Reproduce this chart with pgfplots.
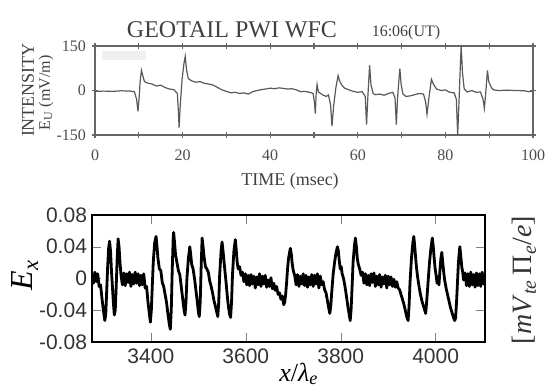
\documentclass[border=0pt]{standalone}
\usepackage{fontspec}
\setmainfont{Liberation Serif}
\newfontfamily\arial{Liberation Sans}
\usepackage{pgfplots}
\pgfplotsset{compat=1.18}
\begin{document}
\begin{tikzpicture}
\path[use as bounding box] (0,0) rectangle (275.5pt,193.5pt);
% ---------------- top panel ----------------
\begin{axis}[at={(47.5pt,126pt)}, anchor=south west, scale only axis,
  width=219pt, height=44.5pt,
  xmin=0, xmax=100, ymin=-150, ymax=150,
  xtick={0,20,...,100}, minor xtick={10,30,...,90},
  ytick={-150,0,150}, yticklabels={-150,0,150},
  xticklabels={0,20,40,60,80,100},
  tick align=center, major tick length=3pt, minor tick length=3pt,
  axis line style={black!60, line width=0.8pt},
  every tick/.style={black!60, line width=0.6pt},
  /pgf/number format/assume math mode=true,
  tick label style={font=\fontsize{8}{9}\selectfont, text=black!70},
  xticklabel style={yshift=-2.5pt},
  yticklabel style={xshift=0.5pt},
]
\fill[black!6] (axis cs:1.6,103) rectangle (axis cs:11.6,133);
\addplot[black!65, line width=0.6pt] coordinates {
(0,-3) (2,-2) (4,-3) (6,-1) (8,-2) (9,-4) (9.5,-30) (9.8,-70) (10.1,-20) (10.3,30) (10.6,68) (10.9,50) (11.3,30) (12,25) (13,22) (14,15) (15,18) (16,10) (17,5) (18,3) (18.8,-10) (19.0,-60) (19.2,-125) (19.5,-40) (19.9,40) (20.3,90) (20.6,115) (20.9,70) (21.3,40) (22,33) (23,28) (24,30) (25,24) (26,22) (27,18) (28,10) (29,2) (30,-3) (31,-8) (32,-6) (33,-10) (34,-8) (35,-12) (36,-4) (37,0) (38,3) (39,5) (40,8) (41,6) (42,9) (43,7) (44,5) (45,6) (46,2) (47,-4) (48,-3) (49,-6) (49.8,-10) (50.1,-40) (50.3,-78) (50.5,-10) (50.7,20) (51,-5) (52,-15) (52.8,-20) (53.3,-15) (53.8,-50) (54.1,-120) (54.5,-50) (55,10) (55.5,50) (55.9,30) (56.5,15) (57,8) (58,2) (59,-3) (60,-6) (61,-4) (61.7,-20) (62.0,-115) (62.3,-20) (62.7,85) (63,20) (63.5,-10) (64,-14) (65,-12) (66,-16) (67,-10) (68,-6) (68.5,-25) (68.8,-115) (69.1,-20) (69.6,74) (69.9,20) (70.3,-12) (71,-20) (72,-18) (73,-14) (74,-10) (75,-12) (75.5,-40) (75.8,-80) (76.2,-30) (76.8,38) (77.3,20) (78,5) (79,0) (80,2) (81,-6) (82,-8) (82.5,-30) (82.8,-150) (83.1,-40) (83.4,80) (83.6,150) (83.9,60) (84.3,5) (85,-5) (86,0) (87,-6) (88,-5) (88.6,-30) (88.9,-60) (89.2,-10) (89.6,68) (89.9,30) (90.5,10) (91,2) (92,0) (94,1) (96,0) (98,-1) (99,-4) (100,-2)
};
\end{axis}
\node[anchor=base, font=\fontsize{12}{14}\selectfont, text=black!75] at (116pt,175pt) {GEOTAIL PWI WFC};
\node[anchor=base, font=\fontsize{8}{9}\selectfont, text=black!75] at (203pt,175.5pt) {16:06(UT)};
\node[rotate=90, font=\fontsize{9}{10}\selectfont, text=black!75] at (14pt,148.5pt) {INTENSITY};
\node[rotate=90, font=\fontsize{8}{9}\selectfont, text=black!75] at (23pt,147pt) {E\textsubscript{U} (mV/m)};
\node[font=\fontsize{9}{10}\selectfont, text=black!75] at (145pt,103pt) {TIME (msec)};
% ---------------- bottom panel ----------------
\begin{axis}[at={(46pt,22.5pt)}, anchor=south west, scale only axis,
  width=196.5pt, height=63.5pt,
  xmin=3276, xmax=4104, ymin=-0.08, ymax=0.08,
  scaled y ticks=false, scaled x ticks=false,
  xtick={3400,3600,3800,4000}, xticklabels={3400,3600,3800,4000},
  ytick={-0.08,-0.04,0,0.04,0.08}, yticklabels={-0.08,-0.04,0,0.04,0.08},
  axis line style={line width=0.9pt},
  /pgf/number format/assume math mode=true,
  tick label style={font=\arial\fontsize{10.5}{12}\selectfont, text=black!80},
  yticklabel style={xshift=1pt},
]
\addplot[black, line width=1.4pt, line join=round] coordinates {
(3276,0.004) (3279,-0.006) (3282,0.008) (3285,-0.004) (3288,0.006) (3291,-0.010) (3294,-0.008) (3297,-0.025) (3300,-0.040) (3303,-0.053) (3305,-0.045) (3307,-0.015) (3309,0.015) (3311,0.038) (3313,0.047) (3315,0.035) (3317,0.010) (3319,-0.010) (3321,-0.030) (3323,-0.046) (3325,-0.040) (3327,-0.010) (3329,0.025) (3331,0.050) (3333,0.040) (3335,0.020) (3337,0.005)
(3340,-0.008) (3343,0.007) (3346,-0.009) (3349,0.006) (3352,-0.005) (3355,0.008) (3358,-0.010) (3361,0.005) (3364,-0.007) (3367,0.008) (3370,-0.006) (3373,0.006) (3376,-0.009) (3379,0.004) (3382,-0.008) (3385,0.006) (3388,-0.012) (3391,-0.010) (3394,-0.030) (3397,-0.045) (3399,-0.055) (3401,-0.040) (3403,-0.010) (3405,0.020) (3408,0.045) (3411,0.053) (3413,0.040) (3415,0.025) (3418,0.012) (3421,0.010) (3424,-0.005) (3427,-0.010) (3430,-0.020) (3433,-0.030) (3436,-0.045) (3439,-0.058) (3441,-0.064) (3443,-0.040) (3445,0.010) (3447,0.050) (3448,0.058) (3450,0.045) (3452,0.030) (3455,0.020) (3458,0.010) (3461,0.005) (3464,-0.010) (3467,-0.025) (3470,-0.040) (3472,-0.046) (3474,-0.030) (3476,0.000) (3479,0.025) (3482,0.040) (3484,0.030) (3486,0.018) (3489,0.012) (3492,0.000) (3495,-0.015) (3498,-0.030) (3500,-0.042) (3502,-0.048) (3504,-0.030) (3506,0.015) (3508,0.051) (3510,0.040) (3512,0.028) (3515,0.015) (3518,0.012) (3521,0.008) (3524,-0.003) (3527,-0.010) (3530,-0.018) (3533,-0.028) (3536,-0.035) (3539,-0.043) (3541,-0.048) (3543,-0.030) (3545,0.005) (3548,0.035) (3550,0.046) (3552,0.035) (3554,0.022) (3556,0.010) (3558,-0.002) (3560,-0.015) (3562,-0.028) (3564,-0.038) (3566,-0.045) (3568,-0.049) (3570,-0.030) (3572,0.005) (3575,0.035) (3578,0.049) (3580,0.035) (3582,0.020) (3584,0.012) (3587,0.015) (3590,0.004) (3593,0.008) (3596,-0.004)
(3599,0.006) (3602,-0.008) (3605,0.004) (3608,-0.009) (3611,0.005) (3614,-0.007) (3617,0.003) (3620,-0.012) (3623,0.002) (3626,-0.008) (3629,0.006) (3632,-0.010) (3635,0.003) (3638,-0.007) (3641,0.004) (3644,-0.011) (3647,-0.002) (3650,-0.010) (3653,0.001) (3656,-0.013) (3659,-0.006) (3662,-0.015) (3665,-0.010) (3668,-0.020) (3671,-0.018) (3674,-0.026) (3677,-0.022) (3680,-0.033) (3682,-0.030) (3684,-0.020) (3686,-0.005) (3688,0.012) (3690,0.025) (3692,0.032) (3694,0.038) (3696,0.030) (3698,0.018) (3700,0.010) (3703,0.004)
(3706,-0.008) (3709,0.005) (3712,-0.010) (3715,0.003) (3718,-0.007) (3721,0.006) (3724,-0.009) (3727,0.004) (3730,-0.011) (3733,0.002) (3736,-0.008) (3739,0.005) (3742,-0.010) (3745,0.004) (3748,-0.007) (3751,0.006) (3754,-0.012) (3757,0.003) (3760,-0.008) (3763,-0.004) (3766,-0.014) (3769,-0.018) (3772,-0.028) (3775,-0.038) (3777,-0.044) (3779,-0.035) (3781,-0.018) (3784,0.005) (3787,0.020) (3790,0.032) (3793,0.040) (3795,0.035) (3797,0.022) (3799,0.012) (3801,0.015) (3803,0.006) (3806,0.000) (3809,-0.010) (3812,-0.022) (3815,-0.035) (3818,-0.046) (3820,-0.053) (3822,-0.038) (3824,-0.010) (3826,0.020) (3829,0.042) (3831,0.051) (3833,0.040) (3835,0.025) (3837,0.018) (3840,0.012) (3843,0.004)
(3846,0.008) (3849,-0.006) (3852,0.006) (3855,-0.008) (3858,0.004) (3861,-0.009) (3864,0.006) (3867,-0.005) (3870,0.007) (3873,-0.010) (3876,0.003) (3879,-0.008) (3882,0.005) (3885,-0.011) (3888,0.002) (3891,-0.007) (3894,0.004) (3897,-0.012) (3900,0.003) (3903,-0.008) (3906,0.002) (3909,-0.010) (3912,-0.001) (3915,-0.011) (3918,-0.004) (3921,-0.012) (3924,-0.014) (3927,-0.020) (3930,-0.026) (3933,-0.032) (3936,-0.040) (3939,-0.048) (3942,-0.053) (3944,-0.035) (3946,-0.005) (3949,0.025) (3952,0.045) (3954,0.053) (3956,0.040) (3958,0.025) (3960,0.012) (3962,0.002) (3965,-0.010) (3968,-0.020) (3971,-0.028) (3974,-0.034) (3977,-0.040) (3979,-0.044) (3981,-0.030) (3984,-0.005) (3987,0.020) (3990,0.038) (3993,0.051) (3995,0.040) (3997,0.025) (3999,0.012) (4001,0.004) (4003,-0.006) (4005,0.002) (4007,-0.008) (4009,0.010) (4011,0.025) (4013,0.033) (4015,0.020) (4017,0.008) (4019,-0.002) (4022,-0.012) (4025,-0.020) (4028,-0.028) (4031,-0.036) (4034,-0.042) (4037,-0.048) (4040,-0.053) (4042,-0.050) (4044,-0.030) (4046,-0.005) (4048,0.020) (4050,0.035) (4051,0.040) (4053,0.028) (4055,0.015) (4057,0.008) (4059,-0.002)
(4062,0.007) (4065,-0.009) (4068,0.006) (4071,-0.010) (4074,0.008) (4077,-0.008) (4080,0.005) (4083,-0.011) (4086,0.007) (4089,-0.009) (4092,0.006) (4095,-0.010) (4098,0.008) (4101,-0.007) (4104,0.004)
};
\end{axis}
\node[font=\fontsize{16}{18}\selectfont, rotate=90] at (12.5pt,56pt) {\textit{E}\textsubscript{\textit{x}}};
\node[font=\fontsize{14}{16}\selectfont, rotate=90, text=black!80] at (262pt,53.5pt) {[\textit{mV}\textsubscript{\textit{te}}\,Π\textsubscript{\textit{e}}/\textit{e}]};
\node[anchor=south, font=\fontsize{13}{15}\selectfont, inner sep=0.5pt] at (149.5pt,0.3pt) {\textit{x}/\textit{λ}\textsubscript{\textit{e}}};
\end{tikzpicture}
\end{document}
